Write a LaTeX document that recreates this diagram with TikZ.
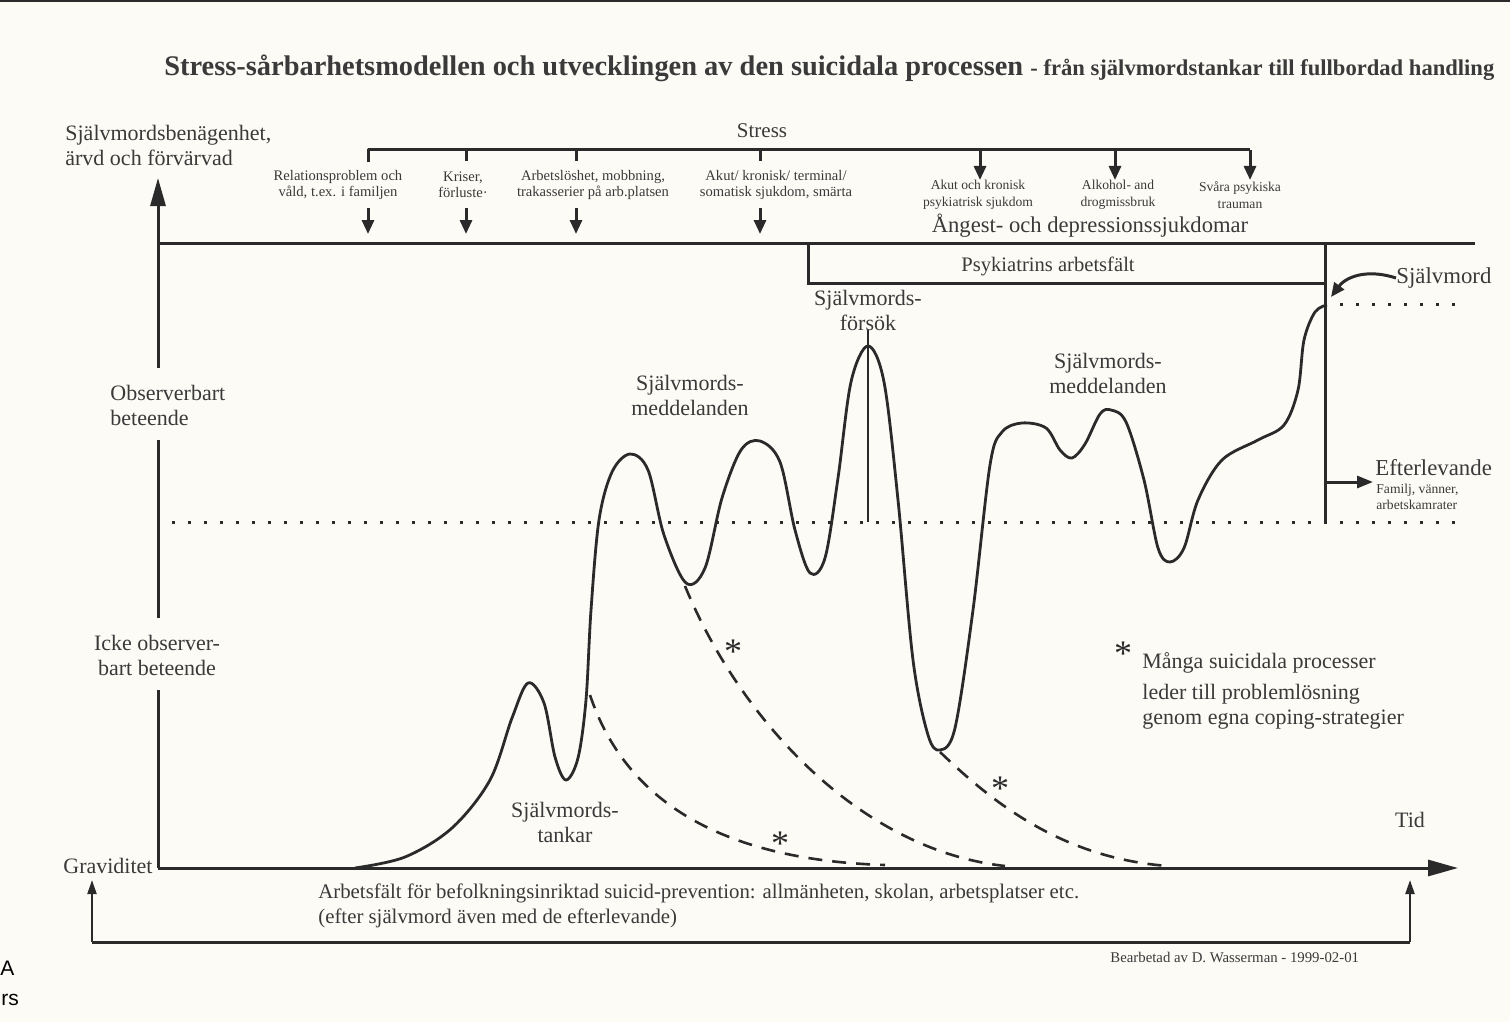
\documentclass[tikz,border=0pt]{standalone}
\usepackage{fontspec}
\setmainfont{Liberation Serif}
\newfontfamily\sansf{Liberation Sans}
\usetikzlibrary{arrows.meta}
\definecolor{bg}{HTML}{FCFBF6}
\definecolor{ink}{HTML}{2A2A2A}
\definecolor{tx}{HTML}{3A3A3A}
\begin{document}
\begin{tikzpicture}[x=0.5pt,y=-0.5pt,
  ln/.style={draw=ink, line width=1.5pt},
  thin/.style={draw=ink, line width=1.1pt},
  crv/.style={draw=ink, line width=1.4pt, line join=round},
  dsh/.style={draw=ink, line width=1.3pt, dash pattern=on 7pt off 5pt},
  dots/.style={draw=ink, line width=1.5pt, dash pattern=on 1.5pt off 6.5pt},
  lbl/.style={text=tx, inner sep=0pt, align=center, font=\fontsize{11}{12.5}\selectfont},
  sml/.style={text=tx, inner sep=0pt, align=center, font=\fontsize{7.3}{8}\selectfont},
  smr/.style={text=tx, inner sep=0pt, align=center, font=\fontsize{6.8}{8.3}\selectfont},
  star/.style={text=ink, inner sep=0pt, font=\fontsize{18}{18}\selectfont}
]
\clip (0,0) rectangle (1510,1022);
\fill[bg] (0,0) rectangle (1510,1022);
\useasboundingbox (0,0) rectangle (1510,1022);
\draw[ink, line width=1pt] (0,0.8) -- (1510,0.8);

% title
\node[anchor=west, inner sep=0pt, text=tx, font=\bfseries\fontsize{14.2}{16}\selectfont] (title) at (164,68)
  {Stress-sårbarhetsmodellen och utvecklingen av den suicidala processen {\fontsize{11.3}{13}\selectfont - från självmordstankar till fullbordad handling}};

% axes
\coordinate (O) at (158,868);
\coordinate (Ytop) at (158,178);
\coordinate (Xend) at (1458,868);
\coordinate (y1) at (158,690);
\coordinate (y2) at (158,618);
\coordinate (y3) at (158,440);
\coordinate (y4) at (158,368);
\draw[ln] (O) -- (y1);
\draw[ln] (y2) -- (y3);
\draw[ln, -{Triangle[length=14pt,width=7.5pt]}] (y4) -- (Ytop);
\draw[ln, -{Triangle[length=15pt,width=8pt]}] (O) -- (Xend);

\node[lbl, anchor=west, align=left] (benag) at (65,145) {Självmordsbenägenhet,\\ärvd och förvärvad};
\node[lbl, anchor=west, align=left] (obs) at (110,405) {Observerbart\\beteende};
\node[lbl] (icke) at (157,655) {Icke observer-\\bart beteende};
\node[lbl, anchor=west] (grav) at (63,866) {Graviditet};
\node[lbl] (tid) at (1410,820) {Tid};

% bottom frame
\coordinate (b1) at (92,942);
\coordinate (b2) at (1410,942);
\coordinate (b1t) at (92,880);
\coordinate (b2t) at (1410,880);
\draw[ln] (b1) -- (b2);
\draw[thin, -{Triangle[length=7pt,width=4.5pt]}] (b1) -- (b1t);
\draw[thin, -{Triangle[length=7pt,width=4.5pt]}] (b2) -- (b2t);
\node[lbl, anchor=west, align=left, font=\fontsize{10.4}{12.5}\selectfont] (prev) at (318,906)
  {Arbetsfält för befolkningsinriktad suicid-prevention: allmänheten, skolan, arbetsplatser etc.\\(efter självmord även med de efterlevande)};
\node[sml, anchor=west, font=\fontsize{7.4}{8}\selectfont] (bearb) at (1110,957) {Bearbetad av D. Wasserman - 1999-02-01};

% stress bracket
\node[lbl, font=\fontsize{10.5}{12}\selectfont] (stress) at (762,131) {Stress};
\coordinate (sA) at (368,150);
\coordinate (sB) at (1250,150);
\draw[ln, line join=round] (368,162) -- (sA) -- (sB);
\foreach \xx in {466,576,760} \draw[ln] (\xx,150) -- (\xx,161);
\foreach \xx in {980,1115,1250} \draw[ln, -{Triangle[length=7pt,width=6pt]}] (\xx,150) -- (\xx,180);
\foreach \xx in {368,466,576,760} \draw[ln, -{Triangle[length=7pt,width=6pt]}] (\xx,208) -- (\xx,234);

\node[sml] (rel) at (338,185) {Relationsproblem och\\våld, t.ex. i familjen};
\node[sml] (kris) at (463,185) {Kriser,\\förluste·};
\node[sml] (arb) at (593,185) {Arbetslöshet, mobbning,\\trakasserier på arb.platsen};
\node[sml] (akut) at (776,185) {Akut/ kronisk/ terminal/\\somatisk sjukdom, smärta};
\node[smr] (psyk) at (978,195) {Akut och kronisk\\psykiatrisk sjukdom};
\node[smr] (alk) at (1118,195) {Alkohol- and\\drogmissbruk};
\node[smr] (trau) at (1240,195) {Svåra psykiska\\trauman};
\node[lbl, font=\fontsize{11.3}{12}\selectfont] (ang) at (1090,226) {Ångest- och depressionssjukdomar};

% top line and psychiatry box
\draw[ln] (160,243) -- (1475,243);
\draw[ln] (808,243) -- (808,283) -- (1325,283);
\coordinate (vtop) at (1325,243);
\coordinate (vbot) at (1325,522);
\draw[ln] (vtop) -- (vbot);
\node[lbl, font=\fontsize{10.3}{12}\selectfont] (pa) at (1048,266) {Psykiatrins arbetsfält};

% dotted lines
\draw[dots] (172,522) -- (1466,522);
\draw[dots] (1340,304) -- (1466,304);

% Självmord
\node[lbl, anchor=west, font=\fontsize{11.4}{12}\selectfont] (sm) at (1396,278) {Självmord};
\coordinate (smt) at (1331,297);
\draw[ln, -{Triangle[length=7pt,width=6pt]}] (sm.west) .. controls (1365,268) and (1345,278) .. (smt);

% Efterlevande
\node[lbl, anchor=west, font=\fontsize{11.4}{12}\selectfont] (eft) at (1375,468) {Efterlevande};
\node[sml, anchor=north west, align=left, font=\fontsize{6.8}{8}\selectfont] (fam) at (1376,484) {Familj, vänner,\\arbetskamrater};
\coordinate (ea) at (1325,482);
\coordinate (eb) at (1373,482);
\draw[ln, -{Triangle[length=8pt,width=6pt]}] (ea) -- (eb);

% main curve
\draw[crv] plot[smooth, tension=0.55] coordinates {
 (355,868) (405,857) (452,828) (490,780) (512,718) (528,683) (544,703) (555,757) (566,780) (578,758)
 (586,700) (591,610) (599,520) (612,472) (630,454) (648,470) (664,535) (686,583) (705,568) (722,498)
 (741,450) (760,441) (780,462) (795,530) (810,573) (825,558) (838,478) (851,382) (868,346) (884,382)
 (898,500) (913,660) (928,735) (940,750) (955,728) (973,610) (990,465) (1002,432) (1022,423) (1046,428)
 (1060,450) (1072,458) (1085,444) (1100,414) (1111,410) (1126,422) (1144,480) (1158,548) (1170,562)
 (1184,548) (1198,500) (1222,460) (1258,440) (1284,425) (1298,390) (1304,340) (1315,312) (1327,305)};

% vertical line at suicide attempt peak
\coordinate (fa) at (868,330);
\coordinate (fb) at (868,522);
\draw[thin] (fa) -- (fb);

% dashed curves
\draw[dsh] (590,695) .. controls (625,800) and (720,860) .. (885,865);
\draw[dsh] (685,586) .. controls (740,720) and (860,850) .. (1005,866);
\draw[dsh] (940,752) .. controls (990,800) and (1060,858) .. (1168,866);

% stars
\node[star] (st1) at (733,652) {*};
\node[star] (st2) at (780,844) {*};
\node[star] (st3) at (1000,789) {*};
\node[star] (st4) at (1123,654) {*};

% curve labels
\node[lbl] (tank) at (565,822) {Självmords-\\tankar};
\node[lbl] (medd1) at (690,395) {Självmords-\\meddelanden};
\node[lbl] (fors) at (868,310) {Självmords-\\försök};
\node[lbl] (medd2) at (1108,373) {Självmords-\\meddelanden};

% note
\node[lbl, anchor=west] (n1) at (1142,663) {Många suicidala processer};
\node[lbl, anchor=west, align=left] (n2) at (1142,707) {leder till problemlösning\\genom egna coping-strategier};

% edge fragments
\node[anchor=west, inner sep=0pt, text=black, font=\sansf\fontsize{10.5}{12}\selectfont] (fragA) at (0,968) {A};
\node[anchor=west, inner sep=0pt, text=black, font=\sansf\fontsize{10.5}{12}\selectfont] (fragB) at (1,1000) {rs};
\end{tikzpicture}
\end{document}
